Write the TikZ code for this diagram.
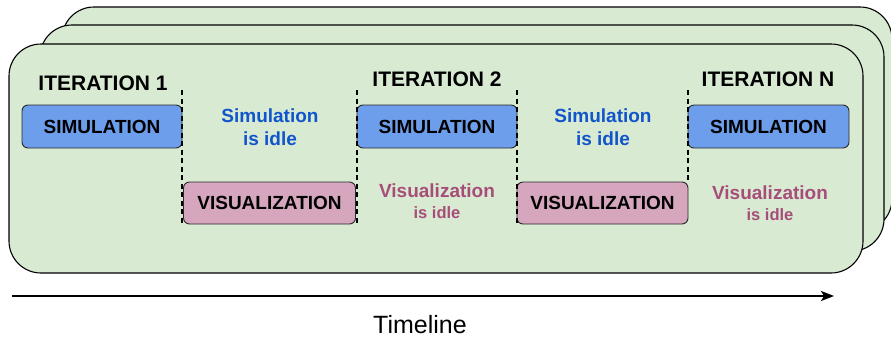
\documentclass[tikz,border=0pt]{standalone}
\usepackage{fontspec}
\setmainfont{Liberation Sans}
\usepackage{xcolor}
\usetikzlibrary{arrows.meta,positioning}
\definecolor{cardGreen}{RGB}{217,234,211}
\definecolor{simBlue}{RGB}{109,158,235}
\definecolor{visPink}{RGB}{213,166,189}
\definecolor{idleBlue}{RGB}{17,85,204}
\definecolor{idlePink}{RGB}{166,77,121}
\definecolor{boxEdge}{RGB}{40,40,40}

\tikzset{
    card/.style={draw=black, fill=cardGreen, line width=1.1pt, rounded corners=32pt},
    taskbox/.style={draw=boxEdge, line width=0.9pt, rounded corners=6pt, inner sep=0pt,
        minimum height=43pt, font=\fontsize{19}{23}\selectfont\bfseries},
    simbox/.style={taskbox, fill=simBlue, minimum width=160pt},
    visbox/.style={taskbox, fill=visPink, minimum width=172pt, minimum height=42pt},
    iterlabel/.style={font=\fontsize{21}{25}\selectfont\bfseries},
    simidle/.style={text=idleBlue, align=center, font=\fontsize{19}{23}\selectfont\bfseries},
    visidle/.style={text=idlePink, align=center, font=\fontsize{19}{21}\selectfont\bfseries},
    sepline/.style={draw=black, line width=1.3pt, dash pattern=on 5pt off 3.5pt}
}

\begin{document}
\begin{tikzpicture}[x=1pt,y=-1pt]

    \useasboundingbox (0,0) rectangle (891,341);

    % stacked iteration cards
    \draw[card] (62,7) rectangle (892,231);
    \draw[card] (40,25) rectangle (884,251);
    \draw[card] (9,44) rectangle (863,273);

    % iteration labels
    \node[iterlabel] (it1) at (103,83) {ITERATION 1};
    \node[iterlabel] (it2) at (437,79) {ITERATION 2};
    \node[iterlabel] (itN) at (768,79) {ITERATION N};

    % simulation and visualization tasks
    \node[simbox] (sim1) at (102,126.5) {SIMULATION};
    \node[simbox] (sim2) at (437,126.5) {SIMULATION};
    \node[simbox, minimum width=161pt] (simN) at (768.5,126.5) {SIMULATION};
    \node[visbox] (vis1) at (269.5,203) {VISUALIZATION};
    \node[visbox, minimum width=171pt] (vis2) at (602.5,203) {VISUALIZATION};

    % idle phases
    \node[simidle] (simidle1) at (270,127) {Simulation\\is idle};
    \node[simidle] (simidle2) at (603,127) {Simulation\\is idle};
    \node[visidle] (visidle1) at (437,201) {Visualization\\{\fontsize{16.5}{19}\selectfont is idle}};
    \node[visidle] (visidle2) at (770,203) {Visualization\\{\fontsize{16.5}{19}\selectfont is idle}};

    % iteration boundaries
    \coordinate (top1) at (182,90);
    \coordinate (top2) at (357,90);
    \coordinate (top3) at (517,90);
    \coordinate (top4) at (688,90);
    \draw[sepline] (top1) -- (top1 |- vis1.south);
    \draw[sepline] (top2) -- (top2 |- vis1.south);
    \draw[sepline] (top3) -- (top3 |- vis2.south);
    \draw[sepline] (top4) -- (top4 |- vis2.north);

    % timeline
    \coordinate (tstart) at (12,296);
    \coordinate (tend) at (834,296);
    \draw[line width=1.8pt, -{Stealth[length=13pt,width=10pt,inset=3pt]}] (tstart) -- (tend);
    \node[font=\fontsize{25}{30}\selectfont] (timeline) at (420,325) {Timeline};

\end{tikzpicture}
\end{document}
